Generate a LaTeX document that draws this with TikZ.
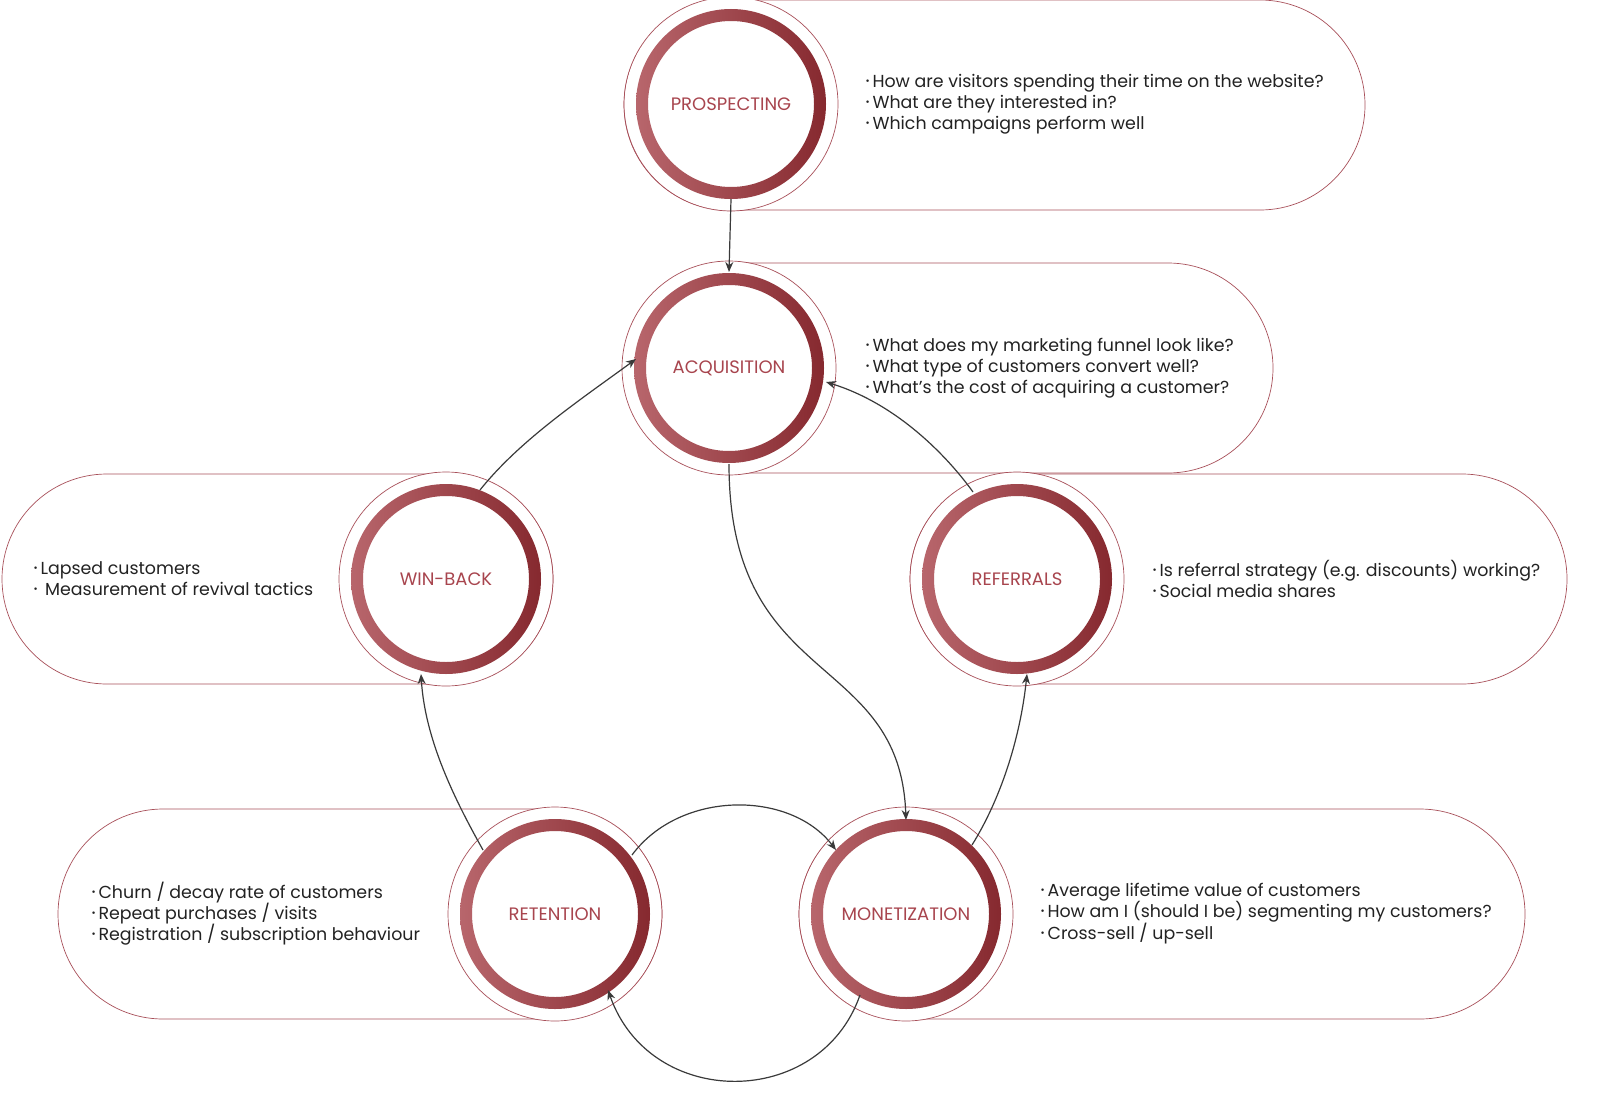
\documentclass[tikz,border=0pt]{standalone}
\usepackage{fontspec}
\setmainfont{Poppins}
\usetikzlibrary{arrows.meta}
\definecolor{ringL}{HTML}{B8666C}
\definecolor{ringD}{HTML}{86292F}
\definecolor{pillc}{HTML}{A8505A}
\definecolor{titlec}{HTML}{A8454E}
\definecolor{txt}{HTML}{222222}
\definecolor{arr}{HTML}{3A3A3A}
\newcommand{\bul}{\raisebox{0.18em}{\fontsize{10}{10}\selectfont•}\,}
\tikzset{
  pill/.style={draw=pillc,line width=0.7pt,rounded corners=105},
  title/.style={text=titlec,font=\fontsize{18}{20}\selectfont},
  body/.style={anchor=west,align=left,text=txt,font=\fontsize{17.4}{21}\selectfont},
  conn/.style={draw=arr,line width=1.2pt,-{Stealth[length=10pt,width=8pt]}},
}
\newcommand{\ring}[3]{%
  \fill[white] (#1) circle (106.6);
  \shade[even odd rule,shading angle=-45,left color=ringL,right color=ringD] (#1) circle (95) circle (83);
  \draw[pillc,line width=0.7pt] (#1) circle (107);
  \node[title] (#2) at (#1) {#3};
  \coordinate (#2c) at (#1);}
\begin{document}
\begin{tikzpicture}[x=1pt,y=-1pt]
\useasboundingbox (0,0) rectangle (1619,1116);
% pills
\draw[pill,fill=white] (624,0) rectangle (1365,210);
\draw[pill,fill=white] (624,263) rectangle (1273,473);
\draw[pill,fill=white] (2,474) rectangle (553,684);
\draw[pill,fill=white] (910,474) rectangle (1567,684);
\draw[pill,fill=white] (58,809) rectangle (662,1019);
\draw[pill,fill=white] (799,809) rectangle (1525,1019);
% rings
\ring{731,104}{pro}{PROSPECTING}
\ring{729,368}{acq}{ACQUISITION}
\ring{446,579}{win}{WIN-BACK}
\ring{1017,579}{ref}{REFERRALS}
\ring{555,914}{ret}{RETENTION}
\ring{906,914}{mon}{MONETIZATION}
% texts
\node[body] (tp) at (862,104) {\bul How are visitors spending their time on the website?\\\bul What are they interested in?\\\bul Which campaigns perform well};
\node[body] (ta) at (862,368) {\bul What does my marketing funnel look like?\\\bul What type of customers convert well?\\\bul What's the cost of acquiring a customer?};
\node[body] (tw) at (30,579) {\bul Lapsed customers\\\bul\ Measurement of revival tactics};
\node[body] (tr) at (1149,579) {\bul Is referral strategy (e.g. discounts) working?\\\bul Social media shares};
\node[body] (tt) at (88,914) {\bul Churn / decay rate of customers\\\bul Repeat purchases / visits\\\bul Registration / subscription behaviour};
\node[body] (tm) at (1037,914) {\bul Average lifetime value of customers\\\bul How am I (should I be) segmenting my customers?\\\bul Cross-sell / up-sell};
% connectors
\draw[conn] ([shift={(0,95)}]proc) -- ([shift={(0,-96)}]acqc);
\draw[conn] ([shift={(34,-89)}]winc) .. controls (520,440) and (580,400) .. ([shift={(-93,-9)}]acqc);
\draw[conn] ([shift={(-44,-87)}]refc) .. controls (950,460) and (900,405) .. ([shift={(97,14)}]acqc);
\draw[conn] ([shift={(0,96)}]acqc) .. controls (729,690) and (900,650) .. ([shift={(0,-94)}]monc);
\draw[conn] ([shift={(66,-69)}]monc) .. controls (1000,800) and (1020,740) .. ([shift={(10,95)}]refc);
\draw[conn] ([shift={(-72,-64)}]retc) .. controls (455,800) and (425,740) .. ([shift={(-25,95)}]winc);
\draw[conn] ([shift={(77,-59)}]retc) .. controls (680,790) and (790,790) .. ([shift={(-70,-64)}]monc);
\draw[conn] ([shift={(-46,81)}]monc) .. controls (820,1110) and (650,1110) .. ([shift={(53,76)}]retc);
\end{tikzpicture}
\end{document}
